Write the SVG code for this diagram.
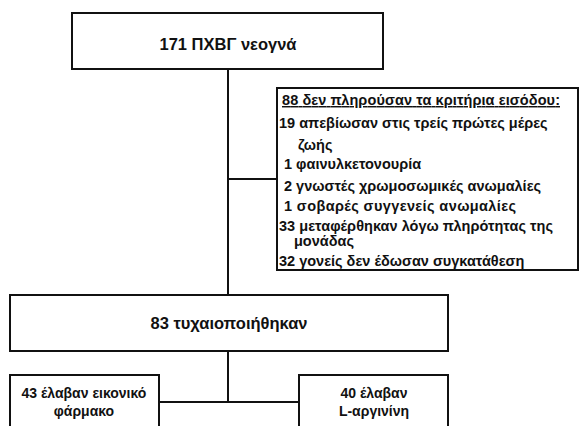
<svg xmlns="http://www.w3.org/2000/svg" width="579" height="426" viewBox="0 0 579 426">
<style>
.box{fill:#fff;stroke:#111;stroke-width:2}
.t{font-family:"Liberation Sans",Arial,sans-serif;font-weight:bold;fill:#111}
.m{font-size:16.5px;text-anchor:middle}
.s{font-size:14.5px}
.b{font-size:14px;text-anchor:middle}
.c{stroke:#111;stroke-width:2;fill:none}
</style>
<rect width="579" height="426" fill="#fff"/>
<g id="connectors">
<path class="c" d="M228,69V295M228,179H277M228,351V402M159,402H299"/>
</g>
<g id="n171">
<rect class="box" x="72" y="13" width="311" height="56"/>
<text class="t m" x="228" y="50">171 ΠΧΒΓ νεογνά</text>
</g>
<g id="excluded">
<rect class="box" x="277" y="88" width="301" height="182"/>
<text class="t s" x="282" y="105" text-decoration="underline" textLength="278" lengthAdjust="spacing">88 δεν πληρούσαν τα κριτήρια εισόδου:</text>
<text class="t s" x="279" y="128">19 απεβίωσαν στις τρείς πρώτες μέρες</text>
<text class="t s" x="298" y="150">ζωής</text>
<text class="t s" x="284" y="169">1 φαινυλκετονουρία</text>
<text class="t s" x="284" y="191">2 γνωστές χρωμοσωμικές ανωμαλίες</text>
<text class="t s" x="284" y="211" textLength="232" lengthAdjust="spacing">1 σοβαρές συγγενείς ανωμαλίες</text>
<text class="t s" x="279" y="231" textLength="274" lengthAdjust="spacing">33 μεταφέρθηκαν λόγω πληρότητας της</text>
<text class="t s" x="294" y="246">μονάδας</text>
<text class="t s" x="279" y="266">32 γονείς δεν έδωσαν συγκατάθεση</text>
</g>
<g id="n83">
<rect class="box" x="10" y="295" width="438" height="56"/>
<text class="t m" x="229" y="329">83 τυχαιοποιήθηκαν</text>
</g>
<g id="placebo">
<rect class="box" x="10" y="375" width="149" height="60"/>
<text class="t b" x="84" y="398">43 έλαβαν εικονικό</text>
<text class="t b" x="84" y="416">φάρμακο</text>
</g>
<g id="arginine">
<rect class="box" x="299" y="375" width="149" height="60"/>
<text class="t b" x="374" y="398">40 έλαβαν</text>
<text class="t b" x="374" y="416">L-αργινίνη</text>
</g>
</svg>
